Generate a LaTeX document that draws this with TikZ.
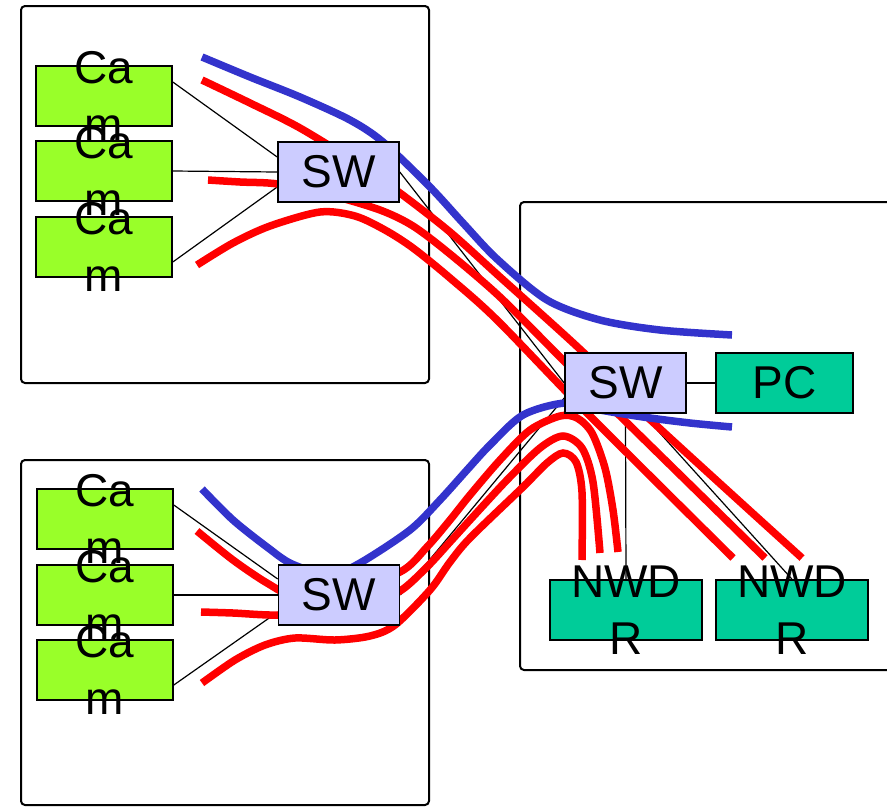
\documentclass[tikz,border=0pt]{standalone}
\usepackage{fontspec}
\setmainfont{Liberation Sans}
\usetikzlibrary{calc}
\pgfdeclarelayer{bg}
\pgfsetlayers{bg,main}
\definecolor{camgreen}{RGB}{153,255,41}
\definecolor{swfill}{RGB}{204,204,255}
\definecolor{devfill}{RGB}{0,204,153}
\definecolor{fblue}{RGB}{51,51,204}
\definecolor{fred}{RGB}{255,0,0}
\begin{document}
\begin{tikzpicture}[x=1pt,y=-1pt,
  container/.style={draw=black, line width=2pt, rounded corners=4pt},
  box/.style={draw=black, line width=1.6pt, rectangle, inner sep=0pt, minimum height=60pt, font=\fontsize{46}{57}\selectfont},
  cambox/.style={box, fill=camgreen, minimum width=136pt},
  swbox/.style={box, fill=swfill, minimum width=121pt},
  devbox/.style={box, fill=devfill},
  lbl/.style={align=center, inner sep=0pt, font=\fontsize{46}{57}\selectfont},
  link/.style={draw=black, line width=1.2pt},
  redflow/.style={draw=fred, line width=7.5pt},
  blueflow/.style={draw=fblue, line width=7.5pt},
  flowcurve/.style={smooth, tension=0.5}
]
\useasboundingbox (0,0) rectangle (887,807);
\clip (0,0) rectangle (887,807);

% boxes
\node[cambox] (cam1) at (104,96) {};
\node[cambox] (cam2) at (104,171) {};
\node[cambox] (cam3) at (104,247) {};
\node[cambox] (cam4) at (105,519) {};
\node[cambox] (cam5) at (105,595) {};
\node[cambox] (cam6) at (105,670) {};
\node[swbox] (sw1) at (338.5,172) {SW};
\node[swbox] (sw2) at (339,595) {SW};
\node[swbox] (sw3) at (625.5,383) {SW};
\node[devbox, minimum width=137pt] (pc) at (784.5,383) {PC};
\node[devbox, minimum width=152pt] (nw1) at (626,610) {};
\node[devbox, minimum width=152pt] (nw2) at (792,610) {};

\begin{pgfonlayer}{bg}
% containers
\draw[container] (21,6) rectangle (429,383);
\draw[container] (21,460) rectangle (429,805);
\draw[container] (520,202) rectangle (900,670);
% links
\draw[link] ($(cam1.east)+(0,-14)$) -- ($(sw1.west)+(0,-15)$);
\draw[link] (cam2.east) -- (sw1.west);
\draw[link] ($(cam3.east)+(0,15)$) -- ($(sw1.west)+(0,15)$);
\draw[link] ($(cam4.east)+(0,-14)$) -- ($(sw2.west)+(0,-16)$);
\draw[link] (cam5.east) -- (sw2.west);
\draw[link] ($(cam6.east)+(0,15)$) -- ($(sw2.west)+(0,17)$);
\draw[link] (sw1.east) -- (sw3.west);
\draw[link] (sw2.east) -- ($(sw3.west)+(0,15)$);
\draw[link] (sw3.east) -- (pc.west);
\draw[link] (sw3.south) -- (nw1.north);
\draw[link] ($(sw3.south)+(17,0)$) -- (nw2.north);
% flows: top group
\draw[blueflow] plot[flowcurve] coordinates {(202,57) (250,77) (300,97) (350,120) (383,142) (430,187) (463,223) (497,259) (547,300) (600,320) (660,330) (732,335)};
\draw[redflow] plot[flowcurve] coordinates {(202,80) (250,103) (300,128) (360,165) (400,193) (450,232) (500,277) (584,353) (643,413) (802,558)};
\draw[redflow] plot[flowcurve] coordinates {(208,180) (240,182) (278,184) (330,195) (380,210) (413,226) (450,254) (500,297) (563,360) (617,413) (765,558)};
\draw[redflow] plot[flowcurve] coordinates {(197,265) (233,243) (270,226) (320,212) (355,216) (385,230) (413,248) (450,278) (497,320) (587,413) (733,558)};
% flows: bottom group
\draw[blueflow] plot[flowcurve] coordinates {(202,489) (233,520) (267,547) (292,564) (330,575) (360,563) (410,530) (440,500) (467,470) (490,445) (523,415) (565,403) (600,410) (643,417) (690,423) (732,427)};
\draw[redflow] plot[flowcurve] coordinates {(197,531) (233,560) (267,583) (295,596) (340,590) (400,572) (427,547) (450,520) (470,495) (500,460) (530,430) (560,416) (577,418) (592,433) (605,468) (613,510) (618,552)};
\draw[redflow] plot[flowcurve] coordinates {(201,612) (233,613) (278,615) (330,610) (370,600) (400,591) (427,567) (450,542) (470,520) (507,480) (540,448) (563,436) (582,448) (593,482) (600,553)};
\draw[redflow] plot[flowcurve] coordinates {(202,683) (235,660) (265,645) (295,638) (335,640) (370,636) (395,625) (430,590) (450,562) (470,538) (523,487) (547,463) (563,453) (576,462) (582,492) (582,560)};
\end{pgfonlayer}

% labels
\foreach \c in {cam1,cam2,cam3,cam4,cam5,cam6} \node[lbl] at (\c) {Ca\\m};
\node[lbl] at (nw1) {NWD\\R};
\node[lbl] at (nw2) {NWD\\R};
\end{tikzpicture}
\end{document}
